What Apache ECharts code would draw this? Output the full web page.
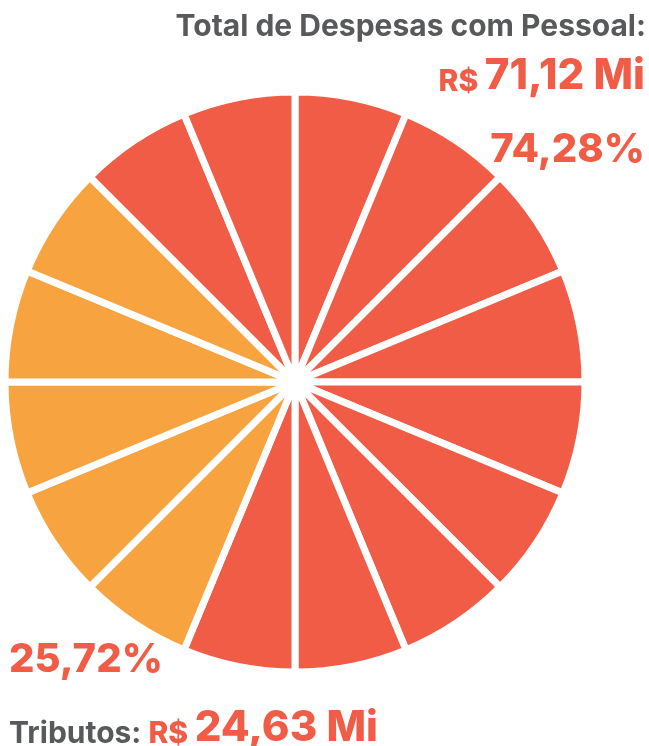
<!DOCTYPE html>
<html>
<head>
<meta charset="utf-8">
<script src="https://cdn.jsdelivr.net/npm/echarts@6/dist/echarts.min.js"></script>
<style>
  html, body { margin: 0; padding: 0; background: #fff; }
  #main { width: 649px; height: 746px; }
</style>
</head>
<body>
<div id="main"></div>
<script>
var myChart = echarts.init(document.getElementById('main'));

// fatias do grafico, em ordem horaria a partir do topo
var sliceGroups = ['Pessoal','Pessoal','Pessoal','Pessoal','Pessoal','Pessoal','Pessoal','Pessoal','Pessoal',
                   'Tributos','Tributos','Tributos','Tributos','Tributos',
                   'Pessoal','Pessoal'];
var sliceValues = [1,1,1,1,1,1,1,1,1,1,1,1,1,1,1,1];
var groupColors = { Pessoal: '#F15C47', Tributos: '#F7A440' };

var pessoalTitle = 'Total de Despesas com Pessoal:';
var pessoalValue = '71,12 Mi';
var pessoalPct = '74,28%';
var tributosTitle = 'Tributos:';
var tributosValue = '24,63 Mi';
var tributosPct = '25,72%';

var pieData = [];
for (var i = 0; i < sliceValues.length; i++) {
  pieData.push({
    name: sliceGroups[i] + ' ' + (i + 1),
    value: sliceValues[i],
    itemStyle: { color: groupColors[sliceGroups[i]] }
  });
}

var font = 'Inter';
var grey = '#58595B';
var red = '#F15C47';

var option = {
  animation: false,
  series: [{
    type: 'pie',
    center: [295, 382],
    radius: [0, 290],
    startAngle: 90,
    clockwise: true,
    label: { show: false },
    labelLine: { show: false },
    emphasis: { disabled: true },
    itemStyle: { borderColor: '#fff', borderWidth: 7 },
    data: pieData
  }],
  graphic: [
    {
      type: 'text', right: 3, top: 12,
      style: { text: pessoalTitle, font: 'bold 30px ' + font, fill: grey }
    },
    {
      type: 'text', right: 4, top: 55,
      style: {
        text: '{s|R$ }{b|' + pessoalValue + '}',
        rich: {
          s: { font: '800 30px ' + font, fill: red, verticalAlign: 'bottom' },
          b: { font: '800 42px ' + font, fill: red, verticalAlign: 'bottom' }
        }
      }
    },
    {
      type: 'text', right: 4, top: 130,
      style: { text: pessoalPct, font: '800 40px ' + font, fill: red }
    },
    {
      type: 'text', left: 9, top: 640,
      style: { text: tributosPct, font: '800 40px ' + font, fill: red }
    },
    {
      type: 'text', left: 9, top: 707,
      style: {
        text: '{t|' + tributosTitle + ' }{s|R$ }{b|' + tributosValue + '}',
        rich: {
          t: { font: 'bold 30px ' + font, fill: grey, verticalAlign: 'bottom' },
          s: { font: '800 30px ' + font, fill: red, verticalAlign: 'bottom' },
          b: { font: '800 42px ' + font, fill: red, verticalAlign: 'bottom' }
        }
      }
    }
  ]
};

myChart.setOption(option);
</script>
</body>
</html>
